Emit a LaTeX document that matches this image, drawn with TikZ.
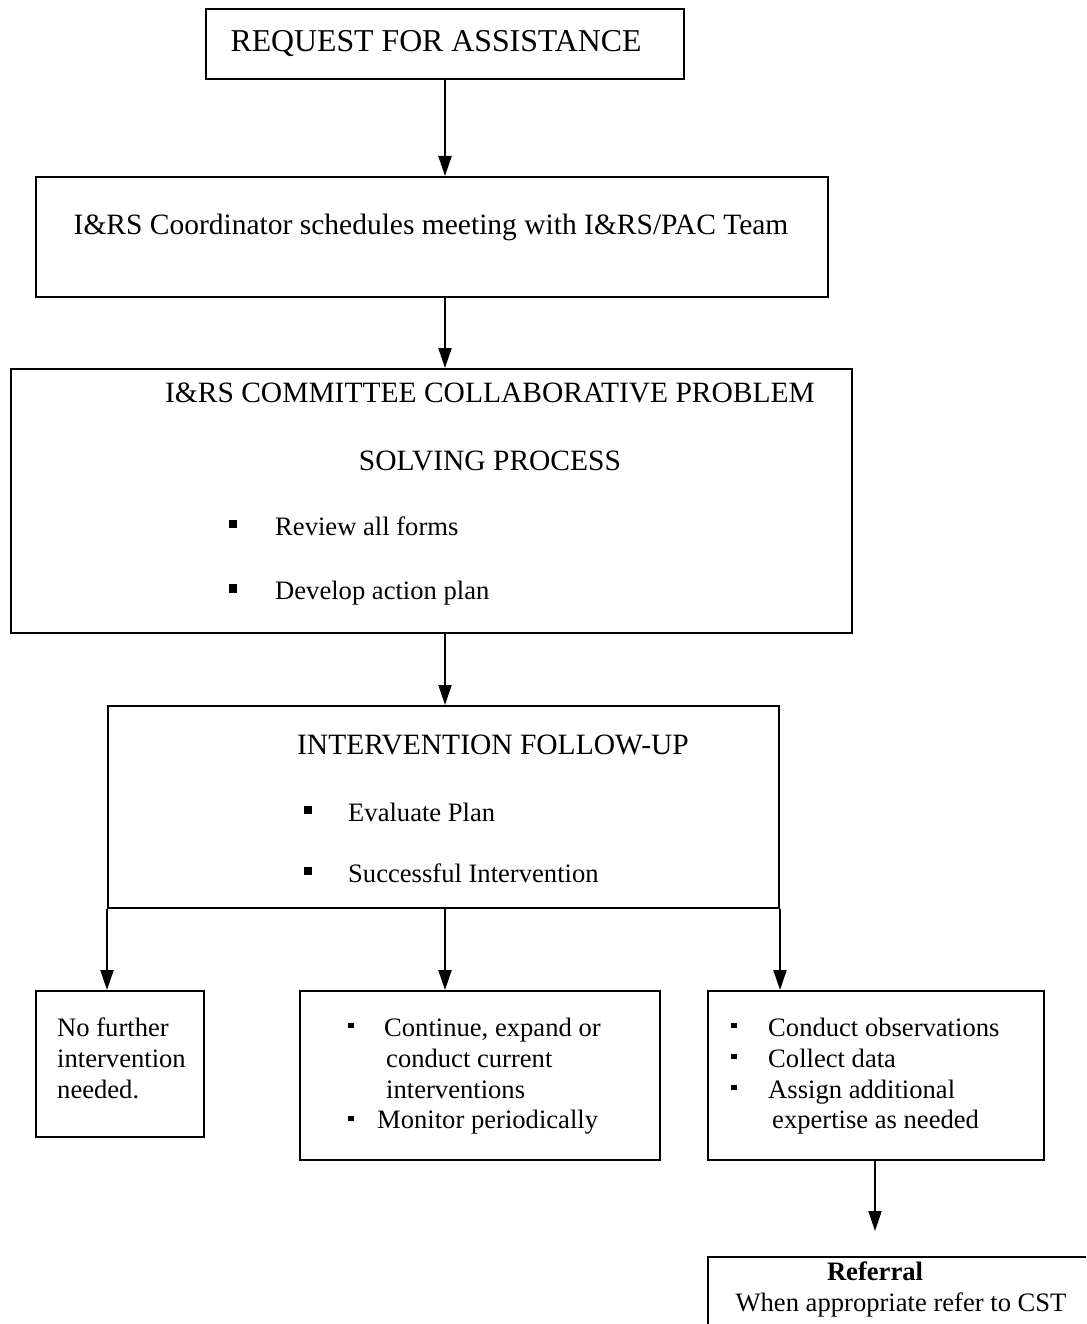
\documentclass[tikz,border=0pt]{standalone}
\usepackage{fontspec}
\setmainfont{Liberation Serif}
\usetikzlibrary{arrows.meta}
\tikzset{
  box/.style={draw, line width=2pt, anchor=north west, inner sep=0pt},
  txt/.style={inner sep=0pt, yshift=-7pt, font=\fontsize{26.6}{30}\selectfont},
  hdr/.style={inner sep=0pt, yshift=-7pt, font=\fontsize{29.5}{34}\selectfont},
  ttl/.style={inner sep=0pt, yshift=-7pt, font=\fontsize{31.8}{36}\selectfont},
  bul/.style={fill=black, inner sep=0pt, minimum width=8pt, minimum height=8.5pt},
  sbul/.style={fill=black, inner sep=0pt, minimum width=5.5pt, minimum height=5.5pt},
  arr/.style={line width=2pt, -{Triangle[length=20pt,width=13pt]}}
}
\begin{document}
\begin{tikzpicture}[x=1pt,y=-1pt]
\fill[white] (0,0) rectangle (1086,1324);
\clip (0,0) rectangle (1086,1324);
% boxes
\node[box, minimum width=478pt, minimum height=70pt] (b1) at (205,8) {};
\node[box, minimum width=792pt, minimum height=120pt] (b2) at (35,176) {};
\node[box, minimum width=841pt, minimum height=264pt] (b3) at (10,368) {};
\node[box, minimum width=671pt, minimum height=202pt] (b4) at (107,705) {};
\node[box, minimum width=168pt, minimum height=146pt] (b5) at (35,990) {};
\node[box, minimum width=360pt, minimum height=169pt] (b6) at (299,990) {};
\node[box, minimum width=336pt, minimum height=169pt] (b7) at (707,990) {};
\node[box, minimum width=420pt, minimum height=120pt] (b8) at (707,1256) {};
% texts
\node[ttl, anchor=mid] (t1) at (436,42) {REQUEST FOR ASSISTANCE};
\node[hdr, anchor=mid] (t2) at (431,225) {I\&RS Coordinator schedules meeting with I\&RS/PAC Team};
\node[hdr, anchor=mid] (t3a) at (490,393) {I\&RS COMMITTEE COLLABORATIVE PROBLEM};
\node[hdr, anchor=mid] (t3b) at (490,461) {SOLVING PROCESS};
\node[bul] (u3a) at (233,524) {};
\node[txt, anchor=mid west] (t3c) at (275,526) {Review all forms};
\node[bul] (u3b) at (233,588.5) {};
\node[txt, anchor=mid west] (t3d) at (275,590) {Develop action plan};
\node[hdr, anchor=mid] (t4a) at (493,745) {INTERVENTION FOLLOW-UP};
\node[bul] (u4a) at (308,810) {};
\node[txt, anchor=mid west] (t4b) at (348,812) {Evaluate Plan};
\node[bul] (u4b) at (308,871) {};
\node[txt, anchor=mid west] (t4c) at (348,873) {Successful Intervention};
\node[txt, anchor=mid west] (t5a) at (57,1027) {No further};
\node[txt, anchor=mid west] (t5b) at (57,1058) {intervention};
\node[txt, anchor=mid west] (t5c) at (57,1089) {needed.};
\node[sbul] (u6a) at (351,1025.5) {};
\node[txt, anchor=mid west] (t6a) at (384,1027) {Continue, expand or};
\node[txt, anchor=mid west] (t6b) at (386,1058) {conduct current};
\node[txt, anchor=mid west] (t6c) at (386,1089) {interventions};
\node[sbul] (u6b) at (351,1118.5) {};
\node[txt, anchor=mid west] (t6d) at (377,1119) {Monitor periodically};
\node[sbul] (u7a) at (734,1025.5) {};
\node[txt, anchor=mid west] (t7a) at (768,1027) {Conduct observations};
\node[sbul] (u7b) at (734,1056.5) {};
\node[txt, anchor=mid west] (t7b) at (768,1058) {Collect data};
\node[sbul] (u7c) at (734,1087.5) {};
\node[txt, anchor=mid west] (t7c) at (768,1089) {Assign additional};
\node[txt, anchor=mid west] (t7d) at (772,1119) {expertise as needed};
\node[txt, anchor=mid, font=\fontsize{26.6}{30}\selectfont\bfseries] (t8a) at (875,1271) {Referral};
\node[txt, anchor=mid] (t8b) at (901,1302) {When appropriate refer to CST};
% connectors
\coordinate (ax) at (445,0);
\coordinate (e8) at (875,1231);
\draw[arr] (b1.south) -- (b1.south |- b2.north);
\draw[arr] (ax |- b2.south) -- (ax |- b3.north);
\draw[arr] (ax |- b3.south) -- (ax |- b4.north);
\draw[arr] (b4.south west) -- (b4.south west |- b5.north);
\draw[arr] (ax |- b4.south) -- (ax |- b6.north);
\draw[arr] (b4.south east) -- (b4.south east |- b7.north);
\draw[arr] (b7.south -| e8) -- (e8);
\end{tikzpicture}
\end{document}
